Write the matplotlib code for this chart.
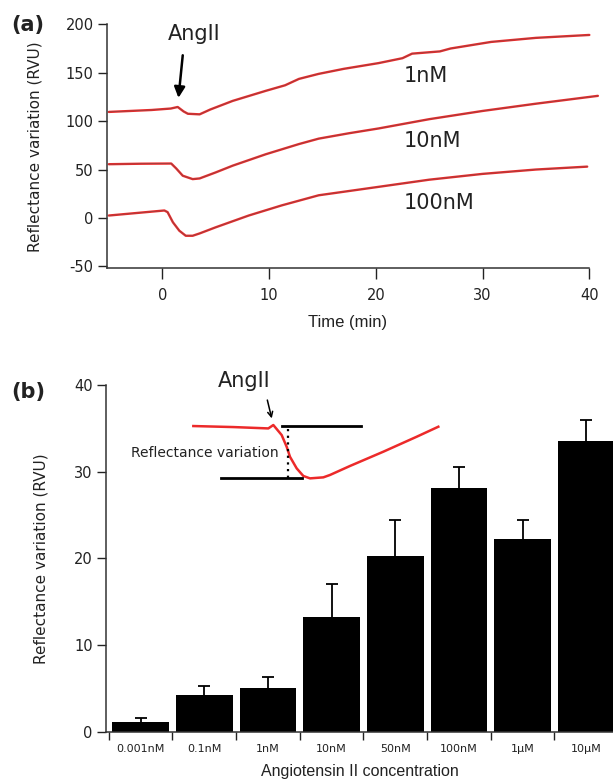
"""
two-panel figure: reflectance traces after AngII (a) and dose response bars (b)
"""

import matplotlib
matplotlib.use("Agg")
import matplotlib.pyplot as plt
import numpy as np
from matplotlib.ticker import FixedLocator

# ---- panel (a): traces, time in min, reflectance in RVU ----
t_1nM = [-5, -3, -1, 0.8, 1.45, 2.0, 2.4, 3.5, 4.5, 6.6, 9.7, 11.5, 12.8, 14.65,
         17, 20.25, 22.5, 23.4, 26, 27, 30.8, 35, 40]
v_1nM = [109.5, 110.5, 111.5, 113, 114.6, 110, 107.6, 107, 112, 120.9, 131.3, 137,
         143.6, 148.8, 154, 159.9, 165, 169.7, 172, 175, 181.8, 186, 189]

t_10nM = [-5, -2, 0.84, 1.3, 1.92, 2.85, 3.5, 5, 6.6, 9.7, 12.8, 14.65, 17.5,
          20.25, 25, 30, 35, 40.8]
v_10nM = [55.5, 56, 56.2, 51.2, 43.6, 40.1, 40.8, 47, 54, 65.8, 76.3, 81.9, 87.5,
          92.4, 102, 110.5, 118, 126.1]

t_100nM = [-5, -2.5, 0.2, 0.5, 1.0, 1.6, 2.2, 2.85, 3.5, 5.0, 8.1, 11.2, 14.65,
           20.25, 25, 30, 35, 39.8]
v_100nM = [2.5, 5, 7.7, 6, -4.5, -13.2, -18.4, -18.4, -16, -9.7, 2.5, 13, 23.4,
           32.1, 39.5, 45.5, 50, 53]

trace_labels = ["1nM", "10nM", "100nM"]

# ---- panel (b): mean response and upper error ----
conc = ["0.001nM", "0.1nM", "1nM", "10nM", "50nM", "100nM", "1\u00b5M", "10\u00b5M"]
resp = [1.15, 4.2, 5.0, 13.2, 20.3, 28.1, 22.2, 33.5]
resp_err = [0.4, 1.1, 1.3, 3.8, 4.1, 2.5, 2.2, 2.5]

# schematic inset trace (arbitrary units)
ins_t = [-9.6, -4.8, -0.6, 0, 1.0, 1.6, 2.0, 2.8, 3.6, 4.4, 6.0, 6.8, 9.2, 13.2, 17.2, 19.8]
ins_v = [0, -0.6, -1.4, 0.6, -5.3, -12.2, -18.1, -24.9, -29.4, -30.8, -30.2, -28.8,
         -23.5, -15.1, -6.3, -0.4]
ins_base = 0.0
ins_min = -30.8

RED = "#ec2a2a"
INK = "#222222"

plt.rcParams["font.family"] = ["DejaVu Sans"]
plt.rcParams["axes.unicode_minus"] = False
plt.rcParams["text.color"] = INK
plt.rcParams["axes.labelcolor"] = INK
plt.rcParams["xtick.color"] = INK
plt.rcParams["ytick.color"] = INK

fig = plt.figure(figsize=(6.13, 7.79), dpi=100)


def style_axes(ax):
    for side in ["top", "right"]:
        ax.spines[side].set_visible(False)
    for side in ["left", "bottom"]:
        ax.spines[side].set_linewidth(1.1)
        ax.spines[side].set_color("#333333")
    ax.tick_params(width=1.0, labelsize=10.5)


# ---------------- panel (a) ----------------
ax1 = fig.add_axes([0.1741, 0.6556, 0.7873, 0.3132])
style_axes(ax1)
for t, v in [(t_1nM, v_1nM), (t_10nM, v_10nM), (t_100nM, v_100nM)]:
    ax1.plot(t, v, color=RED, lw=1.7, clip_on=False, solid_capstyle="round")
    ax1.plot(t, v, color="#555555", lw=0.5, alpha=0.6, clip_on=False)

ax1.set_xlim(-5.2, 40)
ax1.set_ylim(-52, 200)
ax1.set_xticks([0, 10, 20, 30, 40])
ax1.set_yticks([-50, 0, 50, 100, 150, 200])
ax1.tick_params(axis="x", length=8, pad=6)
ax1.tick_params(axis="y", length=6.5, pad=3)
ax1.set_xlabel("Time (min)", family="Liberation Sans", fontsize=12, labelpad=9)
ax1.set_ylabel("Reflectance variation (RVU)", fontsize=11)
ax1.yaxis.set_label_coords(-0.134, 0.5)

for lab, yv in zip(trace_labels, [147, 79, 15]):
    ax1.text(22.6, yv, lab, fontsize=15, va="center", ha="left")

ax1.text(3.0, 190.5, "AngII", fontsize=15, ha="center", va="center")
ax1.annotate("", xy=(1.52, 124), xytext=(1.92, 168),
             arrowprops=dict(arrowstyle="-|>", color="black", lw=1.8,
                             mutation_scale=16, shrinkA=0, shrinkB=0))
fig.text(0.019, 0.968, "(a)", fontsize=15, fontweight="bold", va="center")

# ---------------- panel (b) ----------------
ax2 = fig.add_axes([0.1729, 0.0607, 0.8271, 0.445])
style_axes(ax2)
x = np.arange(len(conc))
ax2.bar(x, resp, width=0.89, color="black", zorder=2)
eb = ax2.errorbar(x, resp, yerr=[np.zeros(len(resp)), resp_err], fmt="none",
                  ecolor="black", elinewidth=1.3, capsize=4, capthick=1.3, zorder=1)
# keep only the upper caps
for cap in eb[1]:
    if np.allclose(cap.get_ydata(), resp):
        cap.set_visible(False)

ax2.set_xlim(-0.542, 7.42)
ax2.set_ylim(0, 40)
ax2.set_yticks([0, 10, 20, 30, 40])
ax2.tick_params(axis="y", length=6.5, pad=3)
ax2.set_xticks(x)
ax2.set_xticklabels(conc, fontsize=8)
ax2.tick_params(axis="x", which="major", length=0, pad=9)
ax2.xaxis.set_minor_locator(FixedLocator(list(x - 0.5)))
ax2.tick_params(axis="x", which="minor", length=6, width=1.0)
ax2.set_xlabel("Angiotensin II concentration", family="Liberation Sans",
               fontsize=11.5, labelpad=7)
ax2.set_ylabel("Reflectance variation (RVU)", fontsize=11)
ax2.yaxis.set_label_coords(-0.114, 0.5)
fig.text(0.019, 0.497, "(b)", fontsize=15, fontweight="bold", va="center")

# inset schematic
ins = fig.add_axes([185 / 613, 1 - 485 / 779, 260 / 613, 70 / 779])
ins.set_axis_off()
ins.set_xlim(-10.6, 20.6)
ins.set_ylim(-34.7, 6.5)
ins.plot(ins_t, ins_v, color=RED, lw=1.8, clip_on=False)
ins.plot([1.0, 10.5], [ins_base, ins_base], color="black", lw=2)
ins.plot([-6.3, 3.4], [ins_min, ins_min], color="black", lw=2)
ins.plot([1.8, 1.8], [ins_base - 2, ins_min], color="black", lw=1.6, ls=(0, (1, 2)))
ins.text(0.6, -15.7, "Reflectance variation", fontsize=10, ha="right", va="center")
ins.text(-3.5, 23.1, "AngII", fontsize=15, ha="center", va="baseline")
ins.annotate("", xy=(-0.19, 4.5), xytext=(-0.72, 15.3), annotation_clip=False,
             arrowprops=dict(arrowstyle="->", color="black", lw=1.1,
                             mutation_scale=9, shrinkA=0, shrinkB=0))

fig.savefig("out.png", dpi=100)
